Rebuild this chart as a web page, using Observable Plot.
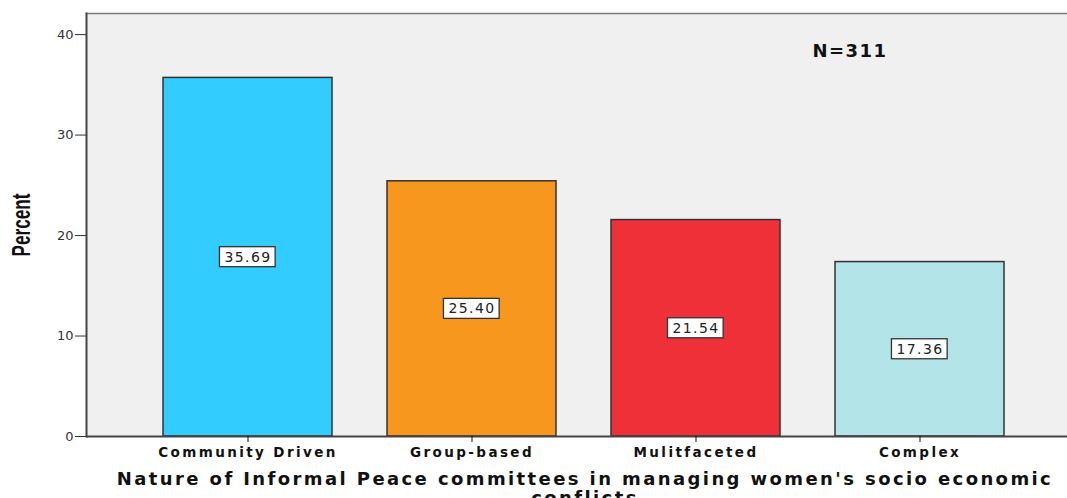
<!DOCTYPE html>
<html>
<head>
<meta charset="utf-8">
<script src="https://cdn.jsdelivr.net/npm/d3@7"></script>
<script src="https://cdn.jsdelivr.net/npm/@observablehq/plot@0.6"></script>
<style>
  html, body { margin: 0; padding: 0; background: #ffffff; }
  #chart svg { display: block; }
</style>
</head>
<body>
<div id="chart"></div>
<script>
const categories = ["Community Driven", "Group-based", "Mulitfaceted", "Complex"];
const percents = [35.69, 25.40, 21.54, 17.36];
const barColors = ["#33ccff", "#f7971e", "#ef3039", "#b3e5e8"];
const yTicks = [0, 10, 20, 30, 40];
const xTitle = "Nature of Informal Peace committees in managing women's socio economic\nconflicts";
const yTitle = "Percent";
const nLabel = "N=311";

const data = categories.map((c, i) => ({category: c, percent: percents[i], color: barColors[i]}));

const chart = Plot.plot({
  width: 1067,
  height: 498,
  marginLeft: 86,
  marginRight: 0,
  marginTop: 13,
  marginBottom: 62,
  style: {background: "#ffffff", fontFamily: "Liberation Sans, Arial, sans-serif", overflow: "hidden"},
  x: {type: "band", domain: categories, range: [135.4, 1031.4], paddingInner: 0.246, paddingOuter: 0.123, align: 0.5, axis: null},
  y: {domain: [0, 42.1], axis: null},
  marks: [
    Plot.frame({fill: "#f0f0f0", stroke: null}),
    Plot.frame({anchor: "top", stroke: "#7a7a7a", strokeWidth: 1.5}),
    Plot.barY(data, {x: "category", y: "percent", fill: "color", stroke: "#333333", strokeWidth: 1.5}),
    Plot.text(data, {x: "category", y: d => d.percent / 2, text: d => d.percent.toFixed(2),
      fontSize: 14, fill: "#222222", fontFamily: "DejaVu Sans, sans-serif"}),
    Plot.frame({anchor: "left", stroke: "#444444", strokeWidth: 2}),
    Plot.ruleY([0], {stroke: "#444444", strokeWidth: 2}),
    Plot.axisY({ticks: yTicks, tickSize: 11, tickPadding: 2, fontSize: 13, color: "#333333", label: null, tickFormat: d => d,
      fontFamily: "DejaVu Sans, sans-serif"}),
    Plot.axisX({tickSize: 6, tickPadding: 5, fontSize: 13.5, fontWeight: "bold", color: "#111111", label: null,
      fontFamily: "DejaVu Sans, sans-serif"}),
    Plot.text([xTitle], {frameAnchor: "bottom", lineAnchor: "top", dy: 34, dx: 8, text: d => d,
      fontSize: 18, fontWeight: "bold", fill: "#111111", fontFamily: "DejaVu Sans, sans-serif", lineHeight: 1.1}),
    Plot.text([yTitle], {frameAnchor: "left", textAnchor: "middle", dx: -65, dy: 0, rotate: -90, text: d => d,
      fontSize: 26, fontWeight: "bold", fill: "#111111", fontFamily: "Liberation Sans, Arial, sans-serif"}),
    Plot.text([nLabel], {frameAnchor: "top", dx: 273, dy: 31, text: d => d,
      fontSize: 18, fontWeight: "bold", fill: "#111111", fontFamily: "DejaVu Sans, sans-serif"})
  ]
});

document.getElementById("chart").appendChild(chart);

const allTexts = Array.from(chart.querySelectorAll("text"));
const valueSet = new Set(percents.map(v => v.toFixed(2)));

// letter spacing to mimic the SPSS rendering
allTexts.forEach(t => {
  const s = t.textContent;
  if (categories.includes(s)) t.setAttribute("letter-spacing", "2.4");
  else if (valueSet.has(s)) t.setAttribute("letter-spacing", "1.4");
  else if (s === nLabel) t.setAttribute("letter-spacing", "1.5");
  else if (s.startsWith("Nature")) t.setAttribute("letter-spacing", "2.4");
  else if (s === yTitle) {
    const tr = t.getAttribute("transform") || "";
    t.setAttribute("transform", tr + " scale(0.66,1)");
  }
});

// white label boxes behind the value labels
const ns = "http://www.w3.org/2000/svg";
allTexts.filter(t => valueSet.has(t.textContent)).forEach(t => {
  const bb = t.getBBox();
  const padX = 5, padY = 2;
  const r = document.createElementNS(ns, "rect");
  r.setAttribute("x", bb.x - padX);
  r.setAttribute("y", bb.y - padY);
  r.setAttribute("width", bb.width + 2 * padX - 1.4);
  r.setAttribute("height", bb.height + 2 * padY);
  r.setAttribute("fill", "#ffffff");
  r.setAttribute("stroke", "#333333");
  r.setAttribute("stroke-width", "1.3");
  const tr = t.getAttribute("transform");
  if (tr) r.setAttribute("transform", tr);
  t.parentNode.insertBefore(r, t);
});
</script>
</body>
</html>
